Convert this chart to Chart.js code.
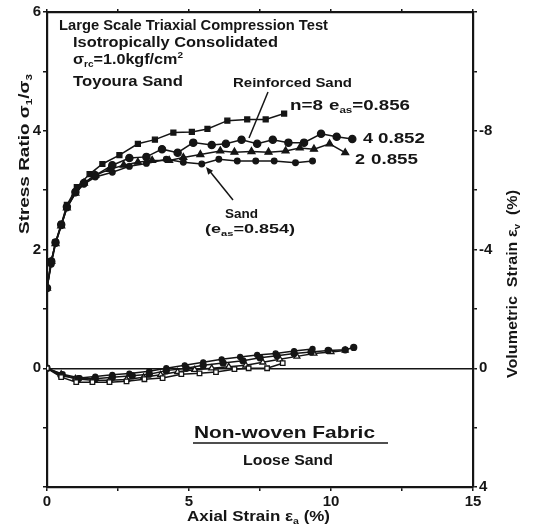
<!DOCTYPE html>
<html><head><meta charset="utf-8">
<script src="https://cdn.jsdelivr.net/npm/chart.js@4"></script>
<style>html,body{margin:0;padding:0;background:#fff}</style>
</head><body>
<canvas id="c" width="539" height="531"></canvas>
<script>
// ---- Stress ratio curves (left axis) ----
const n8X = [0, 0.15, 0.3, 0.5, 0.7, 1.05, 1.5, 1.95, 2.55, 3.2, 3.8, 4.45, 5.1, 5.65, 6.35, 7.05, 7.7, 8.35];
const n8Y = [1.35, 1.8, 2.12, 2.42, 2.75, 3.05, 3.27, 3.44, 3.59, 3.78, 3.85, 3.97, 3.98, 4.03, 4.17, 4.19, 4.19, 4.29];
const n4X = [0, 0.15, 0.3, 0.5, 0.7, 1.0, 1.3, 1.7, 2.3, 2.9, 3.5, 4.05, 4.6, 5.15, 5.8, 6.3, 6.85, 7.4, 7.95, 8.5, 9.05, 9.65, 10.2, 10.75];
const n4Y = [1.35, 1.8, 2.12, 2.42, 2.72, 2.97, 3.12, 3.25, 3.42, 3.54, 3.56, 3.69, 3.63, 3.8, 3.76, 3.78, 3.85, 3.78, 3.85, 3.8, 3.8, 3.95, 3.9, 3.86];
const n2X = [0, 0.15, 0.3, 0.5, 0.7, 1.0, 1.3, 1.7, 2.2, 2.7, 3.2, 3.7, 4.3, 4.8, 5.4, 6.1, 6.6, 7.2, 7.8, 8.4, 8.9, 9.4, 9.95, 10.5];
const n2Y = [1.35, 1.8, 2.1, 2.4, 2.7, 2.95, 3.12, 3.25, 3.35, 3.42, 3.47, 3.5, 3.5, 3.55, 3.6, 3.66, 3.64, 3.65, 3.64, 3.66, 3.71, 3.69, 3.78, 3.63];
const sandX = [0, 0.15, 0.3, 0.5, 0.7, 1.0, 1.3, 1.7, 2.3, 2.9, 3.5, 4.2, 4.8, 5.45, 6.05, 6.7, 7.35, 8.0, 8.75, 9.35];
const sandY = [1.35, 1.75, 2.1, 2.4, 2.7, 2.95, 3.1, 3.22, 3.3, 3.4, 3.45, 3.52, 3.47, 3.44, 3.52, 3.49, 3.49, 3.49, 3.46, 3.49];

// ---- Volumetric strain curves (right axis, %) ----
const vn8X = [0, 0.5, 1.03, 1.6, 2.2, 2.8, 3.43, 4.07, 4.73, 5.37, 5.95, 6.6, 7.1, 7.75, 8.3];
const vn8Y = [0, 0.3, 0.47, 0.47, 0.47, 0.44, 0.37, 0.33, 0.2, 0.17, 0.13, 0.03, 0, 0, -0.17];
const vn4X = [0, 0.5, 1.1, 1.7, 2.3, 3.0, 3.6, 4.2, 4.9, 5.5, 6.2, 6.9, 7.5, 8.1, 8.7, 9.3, 9.9, 10.5, 10.8];
const vn4Y = [0, 0.25, 0.35, 0.35, 0.3, 0.25, 0.2, 0.08, 0, -0.1, -0.18, -0.25, -0.35, -0.42, -0.5, -0.55, -0.6, -0.62, -0.7];
const vn2X = [0, 0.5, 1.0, 1.6, 2.2, 2.8, 3.4, 4.0, 4.6, 5.2, 5.8, 6.4, 7.0, 7.6, 8.2, 8.8, 9.4, 10.0, 10.5];
const vn2Y = [0, 0.2, 0.35, 0.4, 0.4, 0.38, 0.3, 0.22, 0.12, 0.05, 0, -0.05, -0.1, -0.2, -0.3, -0.4, -0.5, -0.55, -0.6];
const vsandX = [0, 0.55, 1.15, 1.7, 2.3, 2.9, 3.6, 4.2, 4.85, 5.5, 6.15, 6.8, 7.4, 8.05, 8.7, 9.35];
const vsandY = [0, 0.2, 0.33, 0.28, 0.22, 0.18, 0.1, 0, -0.1, -0.2, -0.3, -0.38, -0.45, -0.5, -0.58, -0.65];

// ---- Tick labels ----
const xTickLabels = [0, 5, 10, 15];
const leftTickLabels = [0, 2, 4, 6];
const rightTickLabels = [-8, -4, 0, 4];

const INK = '#151515';
const FONT = '"Liberation Sans", Arial, sans-serif';
const pts = (xs, ys) => xs.map((x, i) => ({x, y: ys[i]}));

function ds(xs, ys, axis, style, radius, filled) {
  return {
    data: pts(xs, ys), yAxisID: axis, showLine: true,
    borderColor: INK, borderWidth: 1.5, tension: 0,
    pointStyle: style, pointRadius: radius, pointBorderWidth: 1.3,
    pointBorderColor: INK, pointBackgroundColor: filled ? INK : '#fff'
  };
}

function fitText(ctx, text, x, y, w, font) {
  ctx.font = font;
  const m = ctx.measureText(text).width;
  ctx.save();
  ctx.translate(x, y);
  ctx.scale(w / m, 1);
  ctx.fillText(text, 0, 0);
  ctx.restore();
}
// parts: [text, kind] where kind: 0 normal, 1 subscript, 2 superscript
function richText(ctx, parts, x, y, w, size) {
  const f = s => 'bold ' + s + 'px ' + FONT;
  let total = 0;
  parts.forEach(([t, k]) => { ctx.font = f(k ? size * 0.62 : size); total += ctx.measureText(t).width; });
  const sx = w ? w / total : 1;
  ctx.save();
  ctx.translate(x, y);
  ctx.scale(sx, 1);
  let cx = 0;
  parts.forEach(([t, k]) => {
    ctx.font = f(k ? size * 0.62 : size);
    const dy = k === 1 ? size * 0.22 : (k === 2 ? -size * 0.42 : 0);
    ctx.fillText(t, cx, dy);
    cx += ctx.measureText(t).width;
  });
  ctx.restore();
  return total * sx;
}

const annot = {
  id: 'annot',
  afterDraw(chart) {
    const ctx = chart.ctx;
    ctx.save();
    ctx.fillStyle = INK; ctx.strokeStyle = INK;
    ctx.textBaseline = 'alphabetic'; ctx.textAlign = 'left';
    const b = s => 'bold ' + s + 'px ' + FONT;
    fitText(ctx, 'Large Scale Triaxial Compression Test', 59, 30, 269, b(14));
    fitText(ctx, 'Isotropically Consolidated', 73, 47, 205, b(14));
    richText(ctx, [['σ', 0], ['rc', 1], ['=1.0kgf/cm', 0], ['2', 2]], 73, 64, 110, 14);
    fitText(ctx, 'Toyoura Sand', 73, 86, 110, b(14));
    fitText(ctx, 'Reinforced Sand', 233, 87, 119, b(12));
    fitText(ctx, 'n=8', 290, 110, 33, b(15));
    richText(ctx, [['e', 0], ['as', 1], ['=0.856', 0]], 329, 110, 81, 14);
    fitText(ctx, '4', 363, 143, 10, b(15));
    fitText(ctx, '0.852', 378, 143, 47, b(15));
    fitText(ctx, '2', 355, 164, 10, b(15));
    fitText(ctx, '0.855', 371, 164, 47, b(15));
    fitText(ctx, 'Sand', 225, 218, 33, b(12));
    richText(ctx, [['(e', 0], ['as', 1], ['=0.854)', 0]], 205, 233, 90, 13);
    fitText(ctx, 'Non-woven Fabric', 194, 438, 181, b(17));
    ctx.lineWidth = 1.6;
    ctx.beginPath(); ctx.moveTo(193, 443); ctx.lineTo(388, 443); ctx.stroke();
    fitText(ctx, 'Loose Sand', 243, 465, 90, b(15));
    // x axis title
    richText(ctx, [['Axial Strain ε', 0], ['a', 1], [' (%)', 0]], 187, 521, 143, 15);
    // left axis title (rotated)
    ctx.save(); ctx.translate(29, 234); ctx.rotate(-Math.PI / 2);
    richText(ctx, [['Stress Ratio σ', 0], ['1', 1], ['/σ', 0], ['3', 1]], 0, 0, 160, 15);
    ctx.restore();
    // right axis title (rotated)
    ctx.save(); ctx.translate(517, 378); ctx.rotate(-Math.PI / 2);
    richText(ctx, [['Volumetric  Strain ε', 0], ['v', 1], ['  (%)', 0]], 0, 0, 188, 14);
    ctx.restore();
    // leader lines
    ctx.lineWidth = 1.5;
    ctx.beginPath(); ctx.moveTo(268, 92); ctx.lineTo(249, 138); ctx.stroke();
    ctx.beginPath(); ctx.moveTo(233, 200); ctx.lineTo(208, 169); ctx.stroke();
    // arrow head at (207,168)
    const ang = Math.atan2(169 - 200, 208 - 233);
    ctx.beginPath();
    ctx.moveTo(206, 167);
    ctx.lineTo(206 - 8 * Math.cos(ang - 0.4), 167 - 8 * Math.sin(ang - 0.4));
    ctx.lineTo(206 - 8 * Math.cos(ang + 0.4), 167 - 8 * Math.sin(ang + 0.4));
    ctx.closePath(); ctx.fill();
    ctx.restore();
  }
};

const tickFont = {family: FONT, size: 15, weight: 'bold'};
const noGrid = {drawOnChartArea: false, drawTicks: true, tickLength: 4, color: INK, lineWidth: 1.5};
const border = {display: true, color: INK, width: 2.2};

new Chart(document.getElementById('c'), {
  type: 'scatter',
  data: {
    datasets: [
      ds(n8X, n8Y, 'y', 'rect', 3.5, true),
      ds(n4X, n4Y, 'y', 'circle', 3.6, true),
      ds(n2X, n2Y, 'y', 'triangle', 4, true),
      ds(sandX, sandY, 'y', 'circle', 2.8, true),
      ds(vn8X, vn8Y, 'y2', 'rect', 3.2, false),
      ds(vn4X, vn4Y, 'y2', 'circle', 3, true),
      ds(vn2X, vn2Y, 'y2', 'triangle', 3.4, false),
      ds(vsandX, vsandY, 'y2', 'circle', 2.5, true)
    ]
  },
  options: {
    responsive: false, animation: false, devicePixelRatio: 1,
    layout: {padding: 0},
    plugins: {legend: {display: false}, tooltip: {enabled: false}},
    scales: {
      x: {
        type: 'linear', position: 'bottom', min: 0, max: 15,
        ticks: {stepSize: 2.5, color: INK, font: tickFont, padding: 2, maxRotation: 0,
          callback: v => xTickLabels.includes(v) ? String(v) : ''},
        grid: noGrid, border: border,
        afterFit: s => { s.height = 44; }
      },
      x2: {
        type: 'linear', position: 'top', min: 0, max: 15,
        ticks: {stepSize: 2.5, display: false},
        grid: Object.assign({}, noGrid, {tickLength: 3}), border: border,
        afterFit: s => { s.height = 12; }
      },
      y: {
        type: 'linear', position: 'left', min: -2, max: 6,
        ticks: {stepSize: 1, color: INK, font: tickFont, padding: 2,
          callback: v => leftTickLabels.includes(v) ? String(v) : ''},
        grid: {drawOnChartArea: true, drawTicks: true, tickLength: 4, lineWidth: 1.5,
          tickColor: INK, color: c => (c.tick && c.tick.value === 0) ? INK : 'rgba(0,0,0,0)'},
        border: border,
        afterFit: s => { s.width = 47; }
      },
      y2: {
        type: 'linear', position: 'right', min: -12, max: 4, reverse: true,
        ticks: {stepSize: 2, color: INK, font: tickFont, padding: 2,
          callback: v => rightTickLabels.includes(v) ? String(v) : ''},
        grid: noGrid, border: border,
        afterFit: s => { s.width = 66; }
      }
    }
  },
  plugins: [annot]
});
</script>
</body></html>
